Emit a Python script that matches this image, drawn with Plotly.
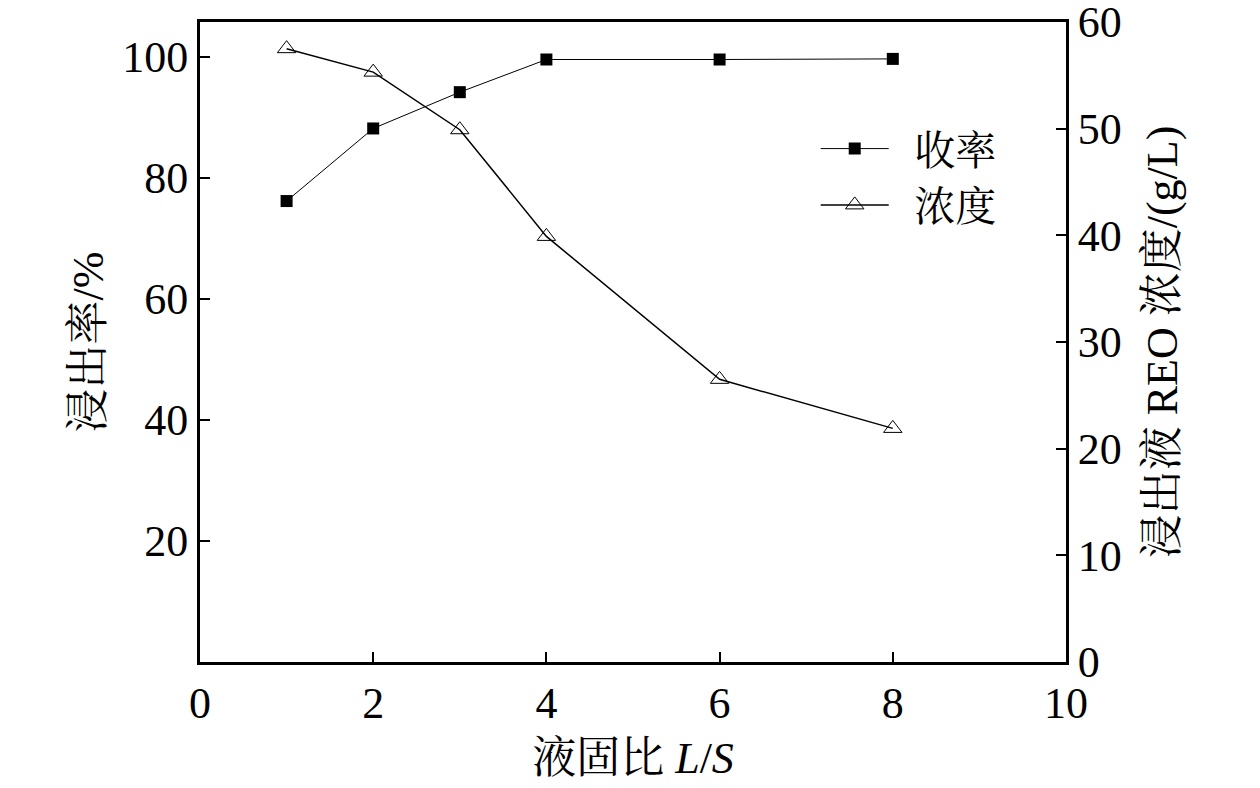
import plotly.graph_objects as go

ls_ratio = [1, 2, 3, 4, 6, 8]
yield_pct = [76.2, 88.2, 94.2, 99.6, 99.6, 99.7]
reo_conc = [57.5, 55.3, 49.9, 39.9, 26.5, 21.9]

FONT = "Liberation Serif, 'Noto Serif CJK SC', 'Noto Sans CJK SC', serif"
FS = 44
NB = "\u00a0\u00a0"

fig = go.Figure()
fig.add_trace(go.Scatter(
    x=ls_ratio, y=yield_pct, name=NB + "收率", mode="lines+markers",
    line=dict(color="black", width=1),
    marker=dict(symbol="square", size=12, color="black"),
    yaxis="y"))
fig.add_trace(go.Scatter(
    x=ls_ratio, y=reo_conc, name=NB + "浓度", mode="lines+markers",
    line=dict(color="black", width=1.5),
    marker=dict(symbol="triangle-up-open", size=16, color="black", line=dict(width=1)),
    yaxis="y2"))

axis_common = dict(showline=True, linecolor="black", linewidth=3, ticks="inside",
                   ticklen=10, tickwidth=2, tickcolor="black", showgrid=False,
                   zeroline=False, automargin=False, ticklabeloverflow="allow",
                   tickfont=dict(family=FONT, size=FS, color="black"))

fig.update_layout(
    width=1260, height=788,
    margin=dict(l=200, r=194, t=22, b=126),
    paper_bgcolor="white", plot_bgcolor="white",
    font=dict(family=FONT, size=FS, color="black"),
    xaxis=dict(range=[0, 10], tickvals=[0, 2, 4, 6, 8, 10], mirror=True,
               title=dict(text="液固比 <i>L</i>/<i>S</i>", font=dict(family=FONT, size=FS), standoff=16),
               **axis_common),
    yaxis=dict(range=[0, 105.8], tickvals=[20, 40, 60, 80, 100],
               title=dict(text="浸出率/%", font=dict(family=FONT, size=FS), standoff=5),
               **axis_common),
    yaxis2=dict(range=[0, 60], tickvals=[0, 10, 20, 30, 40, 50, 60], overlaying="y", side="right",
                title=dict(text="浸出液 REO 浓度/(g/L)", font=dict(family=FONT, size=FS), standoff=26),
                **axis_common),
    legend=dict(x=0.711, y=0.854, xanchor="left", yanchor="top", bgcolor="rgba(0,0,0,0)",
                font=dict(family=FONT, size=41), tracegroupgap=0, itemwidth=68),
    showlegend=True,
)
fig.write_html("out.html", config={"displayModeBar": False},
               post_script="document.body.style.margin='0px';document.body.style.overflow='hidden';")
